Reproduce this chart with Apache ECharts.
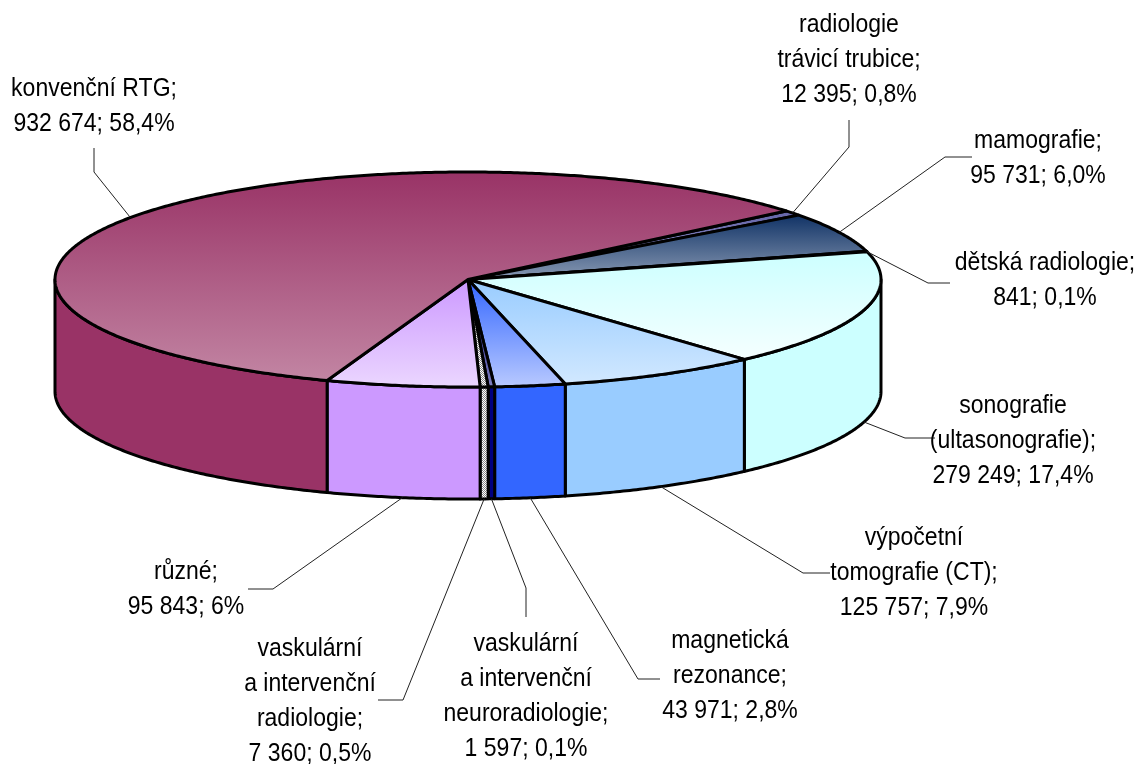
<!DOCTYPE html>
<html>
<head>
<meta charset="utf-8">
<style>html,body{margin:0;padding:0;background:#fff}#c{width:1144px;height:764px}</style>
<script src="https://cdn.jsdelivr.net/npm/echarts@6/dist/echarts.min.js"></script>
</head>
<body>
<div id="c"></div>
<script>
// DATA (clockwise, from the back-right of the pie)
const categories = ['radiologie\ntrávicí trubice','mamografie','dětská radiologie','sonografie\n(ultasonografie)','výpočetní\ntomografie (CT)','magnetická\nrezonance','vaskulární\na intervenční\nneuroradiologie','vaskulární\na intervenční\nradiologie','různé','konvenční RTG'];
const values = [12395,95731,841,279249,125757,43971,1597,7360,95843,932674];
const percentLabels = ['0,8%','6,0%','0,1%','17,4%','7,9%','2,8%','0,1%','0,5%','6%','58,4%'];

// STYLE
const baseColors = ['#6666AA','#113366','#FFFFCC','#CCFFFF','#99CCFF','#3366FF','#000080','pattern','#CC99FF','#993366'];
const topLighten = [0.3,0.5,0.5,0.8,0.55,0.65,0.5,0,0.6,0.4];

// LAYOUT
const pie = {cx:468, cy:279.5, rx:413, ry:107.5, depth:112, startDeg:-39.6};
const sliver = {index:6, neighbour:7, shownDeg:0.9};   // hairline slice is widened at its neighbour's expense so it stays visible
const labelBoxes = [[849,60],[1038,158],[1045,280],[1013,441],[914,573],[730,676],[526,696],[310,701],[186,589],[94,106]];
const leaderPaths = [
  [[849,147],[849,120]],
  [[945,157],[972,157]],
  [[928,283],[950,283]],
  [[905,438],[935,438]],
  [[803,573],[830,573]],
  [[638,679],[660,679]],
  [[526,588],[526,617]],
  [[403,700],[378,700]],
  [[273,589],[248,589]],
  [[94,172],[94,148]]
];

const total = values.reduce((a,b)=>a+b,0);
const sweeps = values.map(v=>v/total*360);
sweeps[sliver.neighbour] -= sliver.shownDeg - sweeps[sliver.index];
sweeps[sliver.index] = sliver.shownDeg;
const starts = [];
sweeps.reduce((acc,s,i)=>{starts[i]=acc;return acc+s;},pie.startDeg);

const fmt = v => String(v).replace(/\B(?=(\d{3})+$)/g,' ');
const pt = (deg,dy) => {const r=deg*Math.PI/180;return [pie.cx+pie.rx*Math.cos(r),pie.cy+pie.ry*Math.sin(r)+(dy||0)];};
function arc(a,b,dy){const n=Math.max(2,Math.ceil((b-a)*2));const o=[];for(let i=0;i<=n;i++)o.push(pt(a+(b-a)*i/n,dy));return o;}
function lighten(hex,m){const n=parseInt(hex.slice(1),16);const c=[n>>16,(n>>8)&255,n&255].map(x=>Math.round(x+(255-x)*m));return 'rgb('+c.join(',')+')';}

const patCanvas=document.createElement('canvas');patCanvas.width=patCanvas.height=2;
(function(){const g=patCanvas.getContext('2d');g.fillStyle='#fff';g.fillRect(0,0,2,2);g.fillStyle='#8a8a8a';g.fillRect(0,0,1,1);g.fillRect(1,1,1,1);})();
const patternFill={type:'pattern',image:patCanvas,repeat:'repeat'};

function sideRange(a,b){ // part of [a,b] in the front half of the ellipse
  for(const k of [0,360,-360]){const l=Math.max(a,k),h=Math.min(b,k+180);if(h>l)return [l,h];}
  return null;
}
const EDGE='#000';

function renderItem(params,api){
  const i=params.dataIndex;
  const a=starts[i],b=a+sweeps[i];
  const col=baseColors[i];
  const kids=[];
  const rim=arc(a,b,0);
  const topPts=[[pie.cx,pie.cy]].concat(rim);
  const ys=topPts.map(p=>p[1]);
  const y0=Math.min.apply(null,ys),y1=Math.max.apply(null,ys);
  const topFill=col==='pattern'?patternFill:{type:'linear',x:0,y:y0,x2:0,y2:y1,global:true,
    colorStops:[{offset:0,color:col},{offset:1,color:lighten(col,topLighten[i])}]};
  const side=sideRange(a,b);
  if(side){
    const pts=arc(side[0],side[1],0).concat(arc(side[0],side[1],pie.depth).reverse());
    kids.push({type:'polygon',z2:1,shape:{points:pts},
      style:{fill:col==='pattern'?patternFill:col,stroke:EDGE,lineWidth:3,lineJoin:'round'}});
  }
  kids.push({type:'polygon',z2:2,shape:{points:topPts},
    style:{fill:topFill,stroke:EDGE,lineWidth:3,lineJoin:'round'}});
  // leader line starts on the slice's own rim
  const mid=(a+b)/2;
  const norm=((mid%360)+360)%360;
  const start=pt(mid,norm<180?pie.depth:0);
  kids.push({type:'polyline',z2:3,shape:{points:[start].concat(leaderPaths[i])},
    style:{fill:'none',stroke:'#222',lineWidth:1}});
  kids.push({type:'text',z2:4,x:labelBoxes[i][0],y:labelBoxes[i][1],scaleX:0.885,style:{
    text:categories[i]+';\n'+fmt(api.value(0))+'; '+percentLabels[i],
    x:0,y:0,align:'center',verticalAlign:'middle',
    font:'26px "Liberation Sans", Arial, sans-serif',lineHeight:35,fill:'#000'}});
  return {type:'group',children:kids};
}

const chart=echarts.init(document.getElementById('c'),null,{renderer:'canvas'});
chart.setOption({
  animation:false,
  backgroundColor:'#fff',
  series:[{type:'custom',coordinateSystem:'none',renderItem:renderItem,
    data:values.map((v,i)=>({name:categories[i],value:[v]}))}]
});
</script>
</body>
</html>
